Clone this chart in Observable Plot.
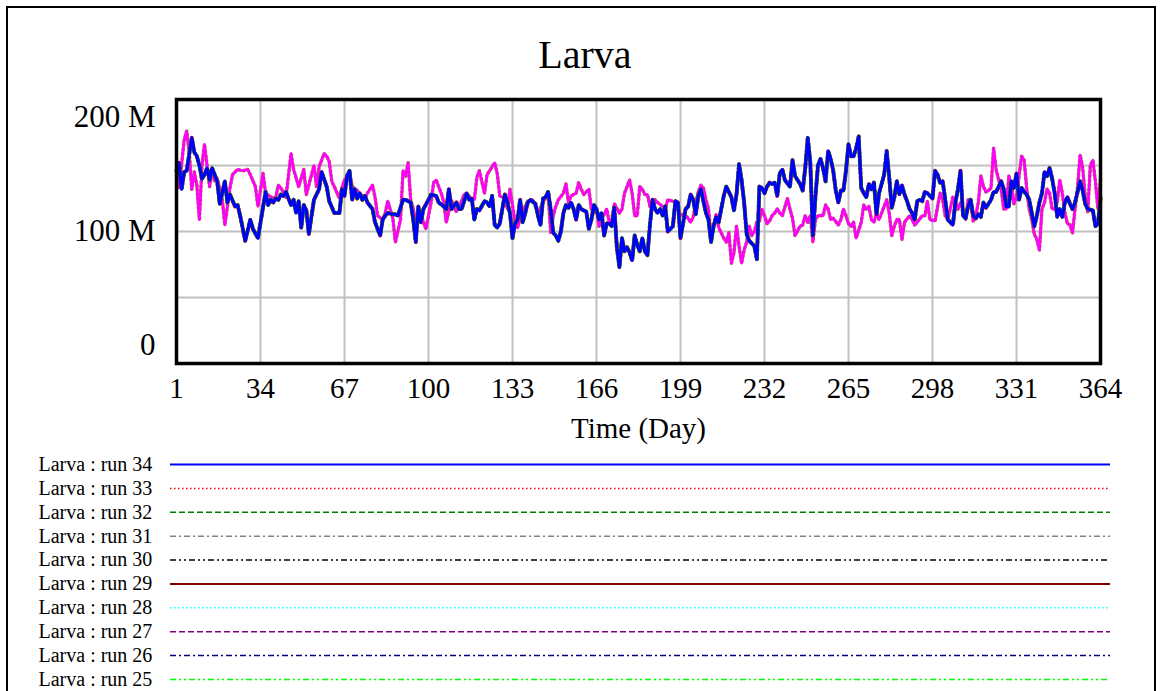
<!DOCTYPE html>
<html><head><meta charset="utf-8">
<script src="https://cdn.jsdelivr.net/npm/d3@7"></script>
<script src="https://cdn.jsdelivr.net/npm/@observablehq/plot@0.6"></script>
<style>
html,body{margin:0;padding:0;background:#fff;width:1160px;height:691px;overflow:hidden;}
#wrap{position:relative;width:1160px;height:691px;overflow:hidden;font-family:"Liberation Serif","Times New Roman",serif;}
#border{position:absolute;left:6px;top:6px;width:1146px;height:760px;border:2px solid #000;}
#title{position:absolute;left:0;top:35px;width:1170px;text-align:center;font-size:40px;line-height:40px;color:#000;}
#main{position:absolute;left:0;top:0;}
#legend{position:absolute;left:0;top:452px;}
</style></head><body>
<div id="wrap"><div id="border"></div><div id="title">Larva</div><div id="main"></div><div id="legend"></div></div>
<script>
// Larva (millions) by day — run 34 (blue) and run 24 (magenta)
const run34 = [[1,146],[2,152],[3,132],[4,145],[5,146],[7,171],[8,160],[9,157],[10,150],[11,140],[12,143],[13,148],[14,139],[15,148],[16,143],[17,138],[18,121],[20,138],[21,122],[22,128],[24,119],[25,120],[26,112],[28,93],[30,109],[31,102],[33,95],[36,130],[37,120],[38,124],[39,122],[40,125],[41,124],[42,128],[43,127],[44,130],[46,120],[47,124],[48,114],[49,123],[50,103],[51,120],[52,116],[53,98],[55,124],[56,128],[57,132],[58,145],[60,134],[61,123],[63,114],[65,114],[66,132],[67,127],[68,142],[69,146],[70,124],[71,132],[72,125],[73,129],[74,124],[75,127],[76,122],[78,117],[79,107],[81,97],[82,109],[83,112],[84,114],[86,113],[87,113],[88,112],[90,124],[91,124],[93,122],[94,109],[95,92],[96,119],[97,107],[98,117],[100,124],[101,128],[103,127],[104,122],[106,119],[107,117],[108,132],[109,117],[111,122],[112,117],[113,117],[115,129],[116,124],[117,125],[118,109],[119,117],[120,116],[122,123],[123,122],[124,119],[125,127],[126,105],[127,103],[128,106],[130,128],[131,122],[132,114],[133,95],[134,106],[135,109],[136,124],[137,107],[138,114],[139,122],[140,124],[142,121],[143,112],[144,105],[145,125],[146,126],[147,130],[148,117],[149,99],[150,97],[151,93],[152,100],[153,114],[154,120],[155,118],[156,122],[157,117],[158,109],[159,120],[160,117],[162,115],[163,102],[164,109],[165,120],[166,117],[167,109],[168,114],[169,97],[170,106],[171,106],[172,104],[173,118],[174,88],[175,73],[176,95],[177,85],[178,88],[179,84],[180,78],[181,97],[182,90],[183,85],[184,95],[185,85],[186,82],[187,105],[188,124],[189,117],[190,114],[191,117],[192,112],[193,119],[194,100],[196,104],[197,123],[198,122],[199,95],[201,117],[202,119],[203,128],[204,124],[205,113],[206,127],[207,132],[209,114],[210,109],[211,92],[212,104],[213,111],[214,107],[215,117],[216,127],[217,134],[219,126],[220,116],[221,128],[222,151],[223,139],[224,122],[225,98],[226,93],[228,89],[229,79],[230,134],[231,133],[232,129],[233,134],[234,137],[235,136],[236,137],[237,127],[238,144],[239,147],[240,139],[242,134],[243,154],[244,142],[246,136],[247,131],[248,148],[249,171],[250,152],[251,97],[252,126],[253,150],[254,155],[255,148],[256,138],[257,161],[258,155],[259,146],[260,131],[261,122],[262,131],[263,131],[264,146],[265,166],[266,157],[267,157],[268,163],[269,172],[270,133],[271,129],[272,126],[273,136],[274,132],[275,137],[276,113],[277,129],[279,143],[280,161],[281,141],[282,118],[283,126],[284,138],[285,128],[286,135],[287,128],[288,123],[289,117],[290,114],[291,109],[292,123],[293,124],[294,123],[295,130],[296,129],[298,125],[299,146],[300,143],[301,137],[302,138],[303,124],[304,109],[306,105],[307,122],[308,132],[309,146],[310,112],[311,110],[312,119],[313,124],[314,112],[315,110],[316,113],[317,111],[318,122],[319,118],[320,121],[321,124],[322,130],[323,130],[325,138],[326,132],[327,119],[328,119],[329,138],[330,133],[331,144],[332,124],[333,133],[334,130],[335,128],[336,124],[338,104],[339,112],[340,122],[341,129],[342,145],[343,142],[344,148],[345,140],[346,129],[347,111],[348,117],[349,111],[350,122],[351,126],[352,121],[353,117],[354,122],[356,138],[357,131],[358,121],[359,117],[361,116],[362,104],[363,106],[364,125]];
const run24 = [[1,152],[2,133],[4,169],[5,176],[6,160],[7,132],[8,145],[9,135],[10,109],[11,150],[12,166],[13,150],[14,134],[15,147],[16,138],[17,140],[19,124],[20,105],[22,133],[23,143],[25,147],[27,146],[29,147],[30,143],[32,134],[33,119],[35,144],[36,129],[39,125],[40,126],[41,135],[42,133],[44,126],[46,159],[47,147],[49,134],[51,147],[52,128],[55,150],[56,134],[57,149],[59,159],[60,157],[61,153],[62,138],[63,134],[65,125],[66,133],[67,139],[69,144],[70,134],[72,131],[73,129],[75,125],[76,129],[78,135],[79,126],[80,112],[82,109],[83,114],[84,123],[86,110],[87,92],[89,109],[90,146],[91,142],[92,152],[93,124],[94,117],[95,107],[97,114],[98,107],[99,102],[101,122],[102,137],[103,139],[105,129],[106,122],[107,107],[109,124],[110,118],[111,115],[113,123],[114,128],[115,129],[117,124],[118,124],[119,141],[120,146],[122,129],[123,143],[124,146],[126,152],[127,144],[128,127],[130,125],[131,117],[132,132],[133,120],[134,107],[135,103],[137,117],[138,119],[139,123],[141,124],[142,119],[143,114],[145,122],[147,129],[148,99],[149,112],[150,119],[151,124],[153,129],[154,136],[155,122],[156,127],[158,129],[159,137],[160,132],[161,128],[163,132],[164,117],[165,114],[166,117],[167,104],[168,109],[170,117],[171,107],[172,109],[173,121],[175,114],[176,117],[177,129],[179,139],[180,129],[181,112],[182,112],[183,134],[184,132],[185,128],[186,128],[187,119],[188,117],[189,124],[190,122],[192,119],[193,117],[194,124],[196,123],[197,122],[198,117],[199,112],[200,113],[201,112],[202,110],[203,107],[204,111],[205,122],[206,130],[207,135],[208,133],[209,124],[210,117],[211,97],[212,104],[213,113],[214,103],[215,99],[216,95],[217,92],[218,99],[219,76],[220,84],[221,104],[222,89],[223,76],[224,86],[225,92],[226,104],[227,97],[228,100],[229,107],[230,108],[231,117],[232,112],[233,106],[234,108],[235,112],[236,114],[237,117],[238,114],[239,112],[241,125],[242,117],[243,110],[244,97],[246,104],[247,105],[248,112],[249,107],[250,112],[251,92],[252,109],[253,112],[255,112],[256,120],[257,117],[258,109],[259,110],[261,105],[262,109],[263,117],[264,112],[265,106],[266,104],[267,107],[268,95],[270,107],[271,120],[272,117],[273,119],[274,109],[275,107],[276,114],[277,109],[278,114],[280,124],[281,114],[282,97],[283,104],[284,109],[285,109],[286,94],[287,107],[289,112],[290,109],[291,105],[292,107],[294,112],[295,112],[296,123],[297,109],[299,108],[300,119],[301,129],[302,124],[303,112],[304,109],[306,126],[307,122],[308,117],[309,122],[310,117],[311,109],[312,124],[313,121],[314,108],[315,112],[316,122],[317,142],[318,134],[319,130],[320,131],[321,133],[322,163],[323,147],[324,139],[325,132],[326,117],[327,117],[328,142],[329,136],[330,121],[331,126],[332,142],[333,157],[334,154],[335,133],[336,117],[337,109],[338,98],[339,94],[340,86],[341,117],[342,122],[343,132],[344,129],[345,117],[346,117],[347,122],[348,139],[349,129],[350,114],[351,106],[352,105],[353,99],[354,117],[355,134],[356,158],[357,148],[358,127],[359,115],[360,150],[361,154],[362,138],[363,117],[364,140]];

const xTicks = [1, 34, 67, 100, 133, 166, 199, 232, 265, 298, 331, 364];
const gridDays = [34, 67, 100, 133, 166, 199, 232, 265, 298, 331];
const gridValues = [50e6, 100e6, 150e6];
const runLabels = ["Larva : run 34","Larva : run 33","Larva : run 32","Larva : run 31","Larva : run 30","Larva : run 29","Larva : run 28","Larva : run 27","Larva : run 26","Larva : run 25"];
const runColors = ["#0000ff","#ff0000","#008000","#808080","#000000","#800000","#00ffff","#800080","#000080","#00ff00"];
const runDashes = [null,"1.5,2.5","6,3","6,3,2,3","6,3,2,3,2,3",null,"1.5,2.5","6,3","6,3,2,3","6,3,2,3,2,3"];

const serif = "'Liberation Serif','Times New Roman',serif";
const toRows = (pairs, run) => pairs.map(([day, v]) => ({day, larva: v * 1e6, run}));
const blue = toRows(run34, "Larva : run 34");
const mag = toRows(run24, "Larva : run 24");
const fmt = d => d === 0 ? "0" : (d / 1e6) + " M";
const ax = {tickSize: 0, tickPadding: 21, tickFormat: fmt, label: null, fontSize: 31};

const main = Plot.plot({
  width: 1160, height: 455,
  marginLeft: 176, marginRight: 60, marginTop: 99, marginBottom: 92,
  x: {domain: [1, 364]},
  y: {domain: [0, 200e6]},
  style: {fontFamily: serif, fontSize: "29px", color: "black", background: "transparent", overflow: "visible"},
  marks: [
    Plot.gridX(gridDays, {stroke: "#c0c0c0", strokeOpacity: 1, strokeWidth: 2}),
    Plot.gridY(gridValues, {stroke: "#c0c0c0", strokeOpacity: 1, strokeWidth: 2}),
    Plot.line(mag, {x: "day", y: "larva", stroke: "#b07040", strokeWidth: 3.6, strokeDasharray: "1.5,3"}),
    Plot.line(mag, {x: "day", y: "larva", stroke: "#ff00ff", strokeWidth: 2.6}),
    Plot.line(blue, {x: "day", y: "larva", stroke: runColors[1], strokeWidth: 4, strokeDasharray: runDashes[1]}),
    Plot.line(blue, {x: "day", y: "larva", stroke: runColors[2], strokeWidth: 3.8, strokeDasharray: runDashes[2]}),
    Plot.line(blue, {x: "day", y: "larva", stroke: runColors[0], strokeWidth: 3}),
    Plot.frame({stroke: "black", strokeWidth: 3.5}),
    Plot.axisX(xTicks, {tickSize: 0, tickPadding: 14, fontSize: 29, label: null}),
    Plot.axisY([200e6], {...ax, dy: 18}),
    Plot.axisY([100e6], {...ax}),
    Plot.axisY([0], {...ax, dy: -18}),
    Plot.text(["Time (Day)"], {frameAnchor: "bottom", dy: 74, fontSize: 29})
  ]
});
document.getElementById("main").append(main);

const legendRows = runLabels.map((label, i) => ({label, color: runColors[i], dash: runDashes[i], width: (i === 0 || i === 5) ? 2 : 1.5}));
const legend = Plot.plot({
  width: 1160, height: 240,
  marginTop: 12, marginBottom: 13, marginLeft: 0, marginRight: 0,
  y: {type: "point", domain: runLabels, padding: 0, round: false, axis: null},
  style: {fontFamily: serif, fontSize: "20px", color: "black", background: "transparent", overflow: "visible"},
  marks: [
    ...legendRows.map(r => Plot.ruleY([r.label], {y: d => d, stroke: r.color, strokeWidth: r.width, strokeDasharray: r.dash || undefined, insetLeft: 170, insetRight: 50})),
    Plot.text(legendRows, {y: "label", text: "label", frameAnchor: "left", dx: 38, textAnchor: "start", fontSize: 20})
  ]
});
document.getElementById("legend").append(legend);
</script></body></html>
